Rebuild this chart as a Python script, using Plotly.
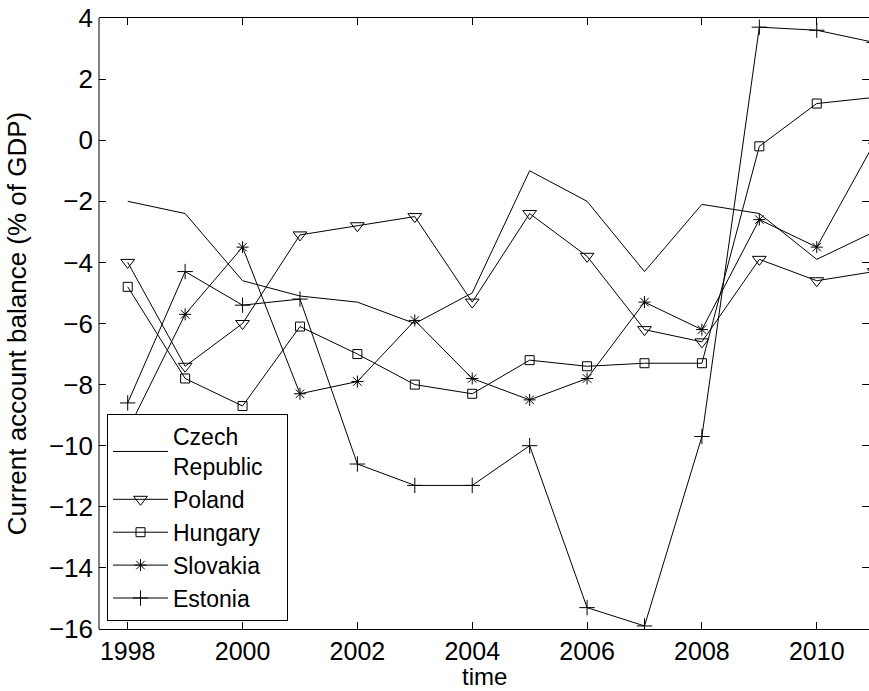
import plotly.graph_objects as go

years = [1998, 1999, 2000, 2001, 2002, 2003, 2004, 2005, 2006, 2007, 2008, 2009, 2010, 2011]

czech = [-2.0, -2.4, -4.6, -5.1, -5.3, -6.0, -5.0, -1.0, -2.0, -4.3, -2.1, -2.4, -3.9, -3.0]
poland = [-4.0, -7.4, -6.0, -3.1, -2.8, -2.5, -5.3, -2.4, -3.8, -6.2, -6.6, -3.9, -4.6, -4.3]
hungary = [-4.8, -7.8, -8.7, -6.1, -7.0, -8.0, -8.3, -7.2, -7.4, -7.3, -7.3, -0.2, 1.2, 1.4]
slovakia = [-9.5, -5.7, -3.5, -8.3, -7.9, -5.9, -7.8, -8.5, -7.8, -5.3, -6.2, -2.6, -3.5, -0.1]
estonia = [-8.6, -4.3, -5.4, -5.2, -10.6, -11.3, -11.3, -10.0, -15.3, -15.9, -9.7, 3.7, 3.6, 3.2]

series = [
    ("Czech<br>Republic\u00a0\u00a0\u00a0", czech, None, 0),
    ("Poland", poland, "triangle-down-open", 12),
    ("Hungary", hungary, "square-open", 9),
    ("Slovakia", slovakia, "asterisk-open", 10),
    ("Estonia", estonia, "cross-thin-open", 11),
]

x_ticks = [1998, 2000, 2002, 2004, 2006, 2008, 2010]
y_ticks = [-16, -14, -12, -10, -8, -6, -4, -2, 0, 2, 4]

FONT = "Liberation Sans, Arial, sans-serif"

fig = go.Figure()
for name, vals, sym, size in series:
    if sym is None:
        fig.add_trace(go.Scatter(x=years, y=vals, name=name, mode="lines",
                                 line=dict(color="black", width=1)))
    else:
        fig.add_trace(go.Scatter(x=years, y=vals, name=name, mode="lines+markers",
                                 line=dict(color="black", width=1),
                                 marker=dict(symbol=sym, size=size, color="black",
                                             line=dict(color="black", width=1))))

fig.update_layout(
    width=869, height=691,
    margin=dict(l=99, r=0, t=18, b=62),
    paper_bgcolor="white", plot_bgcolor="white",
    font=dict(family=FONT, size=26, color="black"),
    showlegend=True,
    legend=dict(x=0.0104, y=0.013, xanchor="left", yanchor="bottom",
                bordercolor="black", borderwidth=1, bgcolor="white",
                font=dict(family=FONT, size=23, color="black"),
                itemwidth=55, tracegroupgap=0),
    xaxis=dict(range=[1997.5, 2010.91], tickvals=x_ticks, ticks="inside", ticklen=7,
               tickcolor="black", showline=True, linecolor="black", linewidth=1,
               mirror="ticks", showgrid=False, zeroline=False, automargin=False,
               tickfont=dict(family=FONT, size=25)),
    yaxis=dict(range=[-16, 4], tickvals=y_ticks, ticks="inside", ticklen=7,
               tickcolor="black", showline=False, mirror="ticks",
               showgrid=False, zeroline=False, automargin=False,
               ticklabelstandoff=5,
               title=dict(text="Current account balance (% of GDP)", standoff=14,
                          font=dict(family=FONT, size=26))),
    shapes=[dict(type="line", xref="paper", yref="paper", x0=0, x1=0, y0=0, y1=1,
                 line=dict(color="black", width=1))],
    annotations=[dict(text="time", xref="paper", yref="paper", x=0.5, y=-0.0770,
                      xanchor="center", yanchor="middle", showarrow=False,
                      font=dict(family=FONT, size=24, color="black"))],
)

fig.write_html("out.html")
